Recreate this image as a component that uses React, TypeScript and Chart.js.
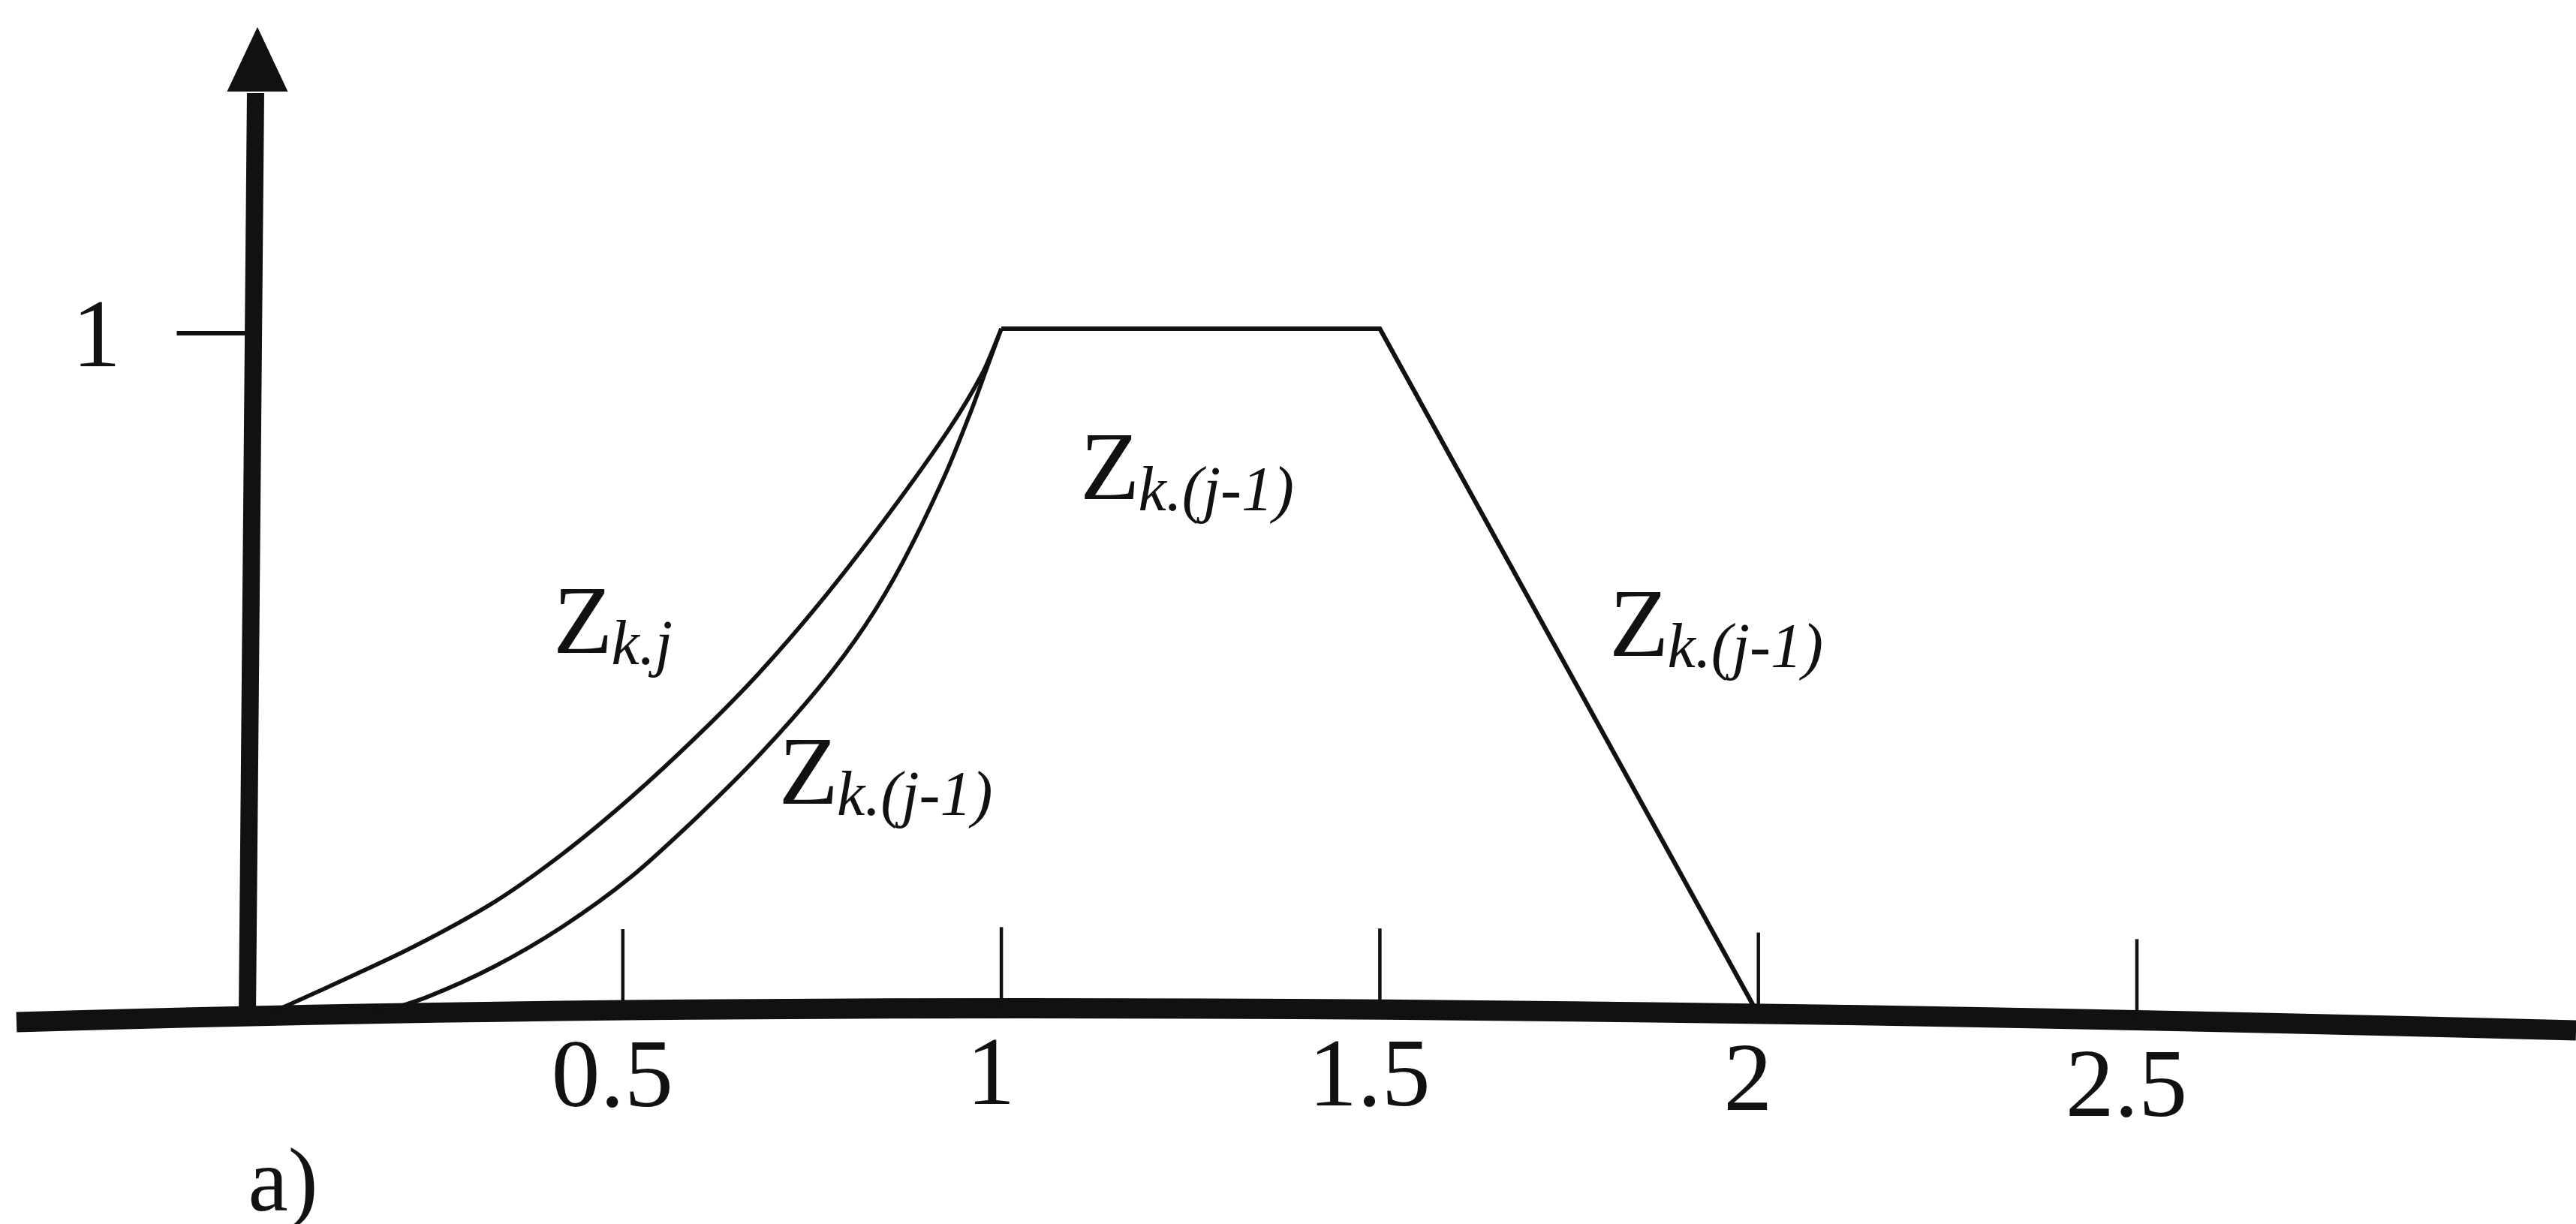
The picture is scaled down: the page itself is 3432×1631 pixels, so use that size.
import { useEffect, useRef } from "react";
import { Chart, registerables } from "chart.js";

Chart.register(...registerables);

const W = 3432;
const H = 1631;
const INK = "#111111";
const SERIF = '"Liberation Serif", "Times New Roman", Times, "DejaVu Serif", serif';

// Z_k.j : rising edge of the new membership function
const zkjX = [0.03, 0.11, 0.22, 0.33, 0.42, 0.51, 0.6, 0.68, 0.76, 0.85, 0.93, 0.975, 1.0];
const zkjY = [0.0, 0.04, 0.097, 0.164, 0.234, 0.316, 0.408, 0.498, 0.6, 0.728, 0.852, 0.935, 1.0];

// Z_k.(j-1) : rising edge of the previous membership function
const zkPrevRiseX = [0.17, 0.24, 0.33, 0.42, 0.51, 0.6, 0.68, 0.76, 0.82, 0.87, 0.925, 0.96, 0.98, 1.0];
const zkPrevRiseY = [0.0, 0.025, 0.07, 0.128, 0.2, 0.29, 0.378, 0.478, 0.567, 0.66, 0.785, 0.88, 0.94, 1.0];

// Z_k.(j-1) : plateau and falling edge
const zkPrevTrapX = [1.0, 1.5, 2.0];
const zkPrevTrapY = [1.0, 1.0, 0.0];

// Axis ticks
const xTickValues = [0.5, 1, 1.5, 2, 2.5];
const xTickLabels = ["0.5", "1", "1.5", "2", "2.5"];
const yTickValues = [1];
const yTickLabels = ["1"];

// Curve annotations (anchored in data units: left of "Z", text baseline)
const curveNames = ["k.j", "k.(j-1)", "k.(j-1)", "k.(j-1)"];
const curveNameX = [0.408, 0.706, 1.104, 1.803];
const curveNameY = [0.527, 0.307, 0.752, 0.523];

const panelLabel = "a)";

const toPoints = (xs: number[], ys: number[]) => xs.map((x, i) => ({ x, y: ys[i] }));

// The printed x axis bows slightly; this returns the centre line of that stroke.
const AX0 = 22;
const AX1 = 1400;
const AX2 = W;
function axisPath(y0: number) {
  return { p0: y0 + 10, p1: y0 - 32, p2: y0 + 21 };
}
function axisYAt(px: number, y0: number) {
  const { p0, p1, p2 } = axisPath(y0);
  let lo = 0;
  let hi = 1;
  for (let i = 0; i < 40; i++) {
    const t = (lo + hi) / 2;
    const x = (1 - t) * (1 - t) * AX0 + 2 * (1 - t) * t * AX1 + t * t * AX2;
    if (x < px) lo = t;
    else hi = t;
  }
  const t = (lo + hi) / 2;
  return (1 - t) * (1 - t) * p0 + 2 * (1 - t) * t * p1 + t * t * p2;
}

const figurePlugin = {
  id: "figureAxes",
  beforeDatasetsDraw(chart: any) {
    const ctx: CanvasRenderingContext2D = chart.ctx;
    const xs = chart.scales.x;
    const ys = chart.scales.y;
    const y0 = ys.getPixelForValue(0);
    const x0 = xs.getPixelForValue(0);
    const top = chart.chartArea.top;
    const { p0, p1, p2 } = axisPath(y0);

    ctx.save();
    ctx.strokeStyle = INK;
    ctx.fillStyle = INK;

    // horizontal axis
    ctx.lineWidth = 27;
    ctx.lineCap = "butt";
    ctx.beginPath();
    ctx.moveTo(AX0, p0);
    ctx.quadraticCurveTo(AX1, p1, AX2, p2);
    ctx.stroke();

    // vertical axis with arrow head
    const arrowBase = top + 120;
    ctx.lineWidth = 23;
    ctx.beginPath();
    ctx.moveTo(x0 + 4, axisYAt(x0 + 4, y0));
    ctx.lineTo(x0 + 15, arrowBase + 4);
    ctx.stroke();
    ctx.beginPath();
    ctx.moveTo(x0 + 17.5, top + 36);
    ctx.lineTo(x0 + 58, arrowBase + 2);
    ctx.lineTo(x0 - 23, arrowBase + 2);
    ctx.closePath();
    ctx.fill();

    // x ticks
    ctx.lineWidth = 4.5;
    xTickValues.forEach((v) => {
      const px = xs.getPixelForValue(v);
      const ay = axisYAt(px, y0);
      ctx.beginPath();
      ctx.moveTo(px, ay);
      ctx.lineTo(px, ay - 108);
      ctx.stroke();
    });

    // y ticks
    ctx.lineWidth = 6;
    yTickValues.forEach((v) => {
      const py = ys.getPixelForValue(v) + 6;
      ctx.beginPath();
      ctx.moveTo(x0 - 90, py);
      ctx.lineTo(x0 + 10, py);
      ctx.stroke();
    });
    ctx.restore();
  },
  afterDatasetsDraw(chart: any) {
    const ctx: CanvasRenderingContext2D = chart.ctx;
    const xs = chart.scales.x;
    const ys = chart.scales.y;
    const y0 = ys.getPixelForValue(0);
    const x0 = xs.getPixelForValue(0);

    ctx.save();
    ctx.fillStyle = INK;
    ctx.textBaseline = "alphabetic";

    // tick labels
    ctx.font = `130px ${SERIF}`;
    ctx.textAlign = "center";
    xTickValues.forEach((v, i) => {
      const px = xs.getPixelForValue(v);
      ctx.fillText(xTickLabels[i], px - 14, axisYAt(px, y0) + 128);
    });
    yTickValues.forEach((v, i) => {
      ctx.fillText(yTickLabels[i], x0 - 197, ys.getPixelForValue(v) + 50);
    });

    // curve names: upright Z with italic subscript
    curveNames.forEach((sub, i) => {
      const lx = xs.getPixelForValue(curveNameX[i]);
      const ly = ys.getPixelForValue(curveNameY[i]);
      ctx.textAlign = "left";
      ctx.font = `130px ${SERIF}`;
      ctx.fillText("Z", lx, ly);
      const zw = ctx.measureText("Z").width;
      ctx.font = `italic 84px ${SERIF}`;
      ctx.fillText(sub, lx + zw - 2, ly + 15);
    });

    // panel tag
    ctx.textAlign = "left";
    ctx.font = `120px ${SERIF}`;
    ctx.fillText(panelLabel, x0 + 5, chart.chartArea.bottom - 18);
    ctx.restore();
  },
};

export default function App() {
  const canvasRef = useRef<HTMLCanvasElement | null>(null);

  useEffect(() => {
    const canvas = canvasRef.current;
    if (!canvas) return;
    let chart: Chart | null = null;
    let cancelled = false;

    const lineStyle = {
      borderColor: INK,
      pointRadius: 0,
      pointHoverRadius: 0,
      showLine: true,
      fill: false,
    };

    const build = () => {
      if (cancelled) return;
      chart = new Chart(canvas, {
        type: "scatter",
        data: {
          datasets: [
            {
              label: "Z k.j",
              data: toPoints(zkjX, zkjY),
              borderWidth: 5.5,
              tension: 0.3,
              ...lineStyle,
            },
            {
              label: "Z k.(j-1) rise",
              data: toPoints(zkPrevRiseX, zkPrevRiseY),
              borderWidth: 5.5,
              tension: 0.3,
              ...lineStyle,
            },
            {
              label: "Z k.(j-1)",
              data: toPoints(zkPrevTrapX, zkPrevTrapY),
              borderWidth: 6,
              tension: 0,
              borderJoinStyle: "miter",
              ...lineStyle,
            },
          ],
        },
        options: {
          animation: false,
          responsive: false,
          devicePixelRatio: 1,
          layout: { padding: 0 },
          plugins: {
            legend: { display: false },
            tooltip: { enabled: false },
          },
          scales: {
            x: { type: "linear", min: -0.3227, max: 3.08, display: false },
            y: { type: "linear", min: -0.3053, max: 1.4792, display: false },
          },
        },
        plugins: [figurePlugin],
      } as any);
    };

    const fonts = (document as any).fonts;
    if (fonts && fonts.load) {
      Promise.all([
        fonts.load(`130px "Liberation Serif"`),
        fonts.load(`italic 84px "Liberation Serif"`),
      ])
        .catch(() => undefined)
        .then(build);
    } else {
      build();
    }

    return () => {
      cancelled = true;
      if (chart) chart.destroy();
    };
  }, []);

  return (
    <div
      style={{
        position: "absolute",
        left: 0,
        top: 0,
        width: W,
        height: H,
        background: "#ffffff",
        overflow: "hidden",
      }}
    >
      <canvas ref={canvasRef} width={W} height={H} style={{ display: "block", width: W, height: H }} />
    </div>
  );
}
